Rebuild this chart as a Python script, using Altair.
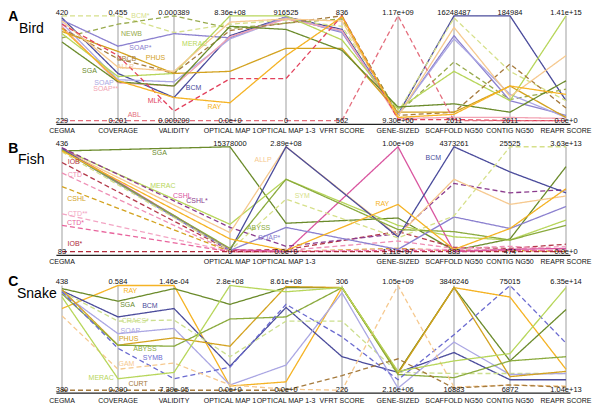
import altair as alt
import pandas as pd

AXES = ["CEGMA", "COVERAGE", "VALIDITY", "OPTICAL MAP 1", "OPTICAL MAP 1-3",
        "VFRT SCORE", "GENE-SIZED", "SCAFFOLD NG50", "CONTIG NG50", "REAPR SCORE"]

# ---------------- Bird ----------------
BIRD_MAX = ["420", "0.455", "0.000389", "8.36e+08", "916525", "836", "1.17e+09", "16248487", "184984", "1.41e+15"]
BIRD_MIN = ["229", "0.201", "0.000209", "0.0e+0", "0", "562", "9.30e+06", "2611", "2611", "0.0e+0"]
BIRD_NAMES = ["BCM", "BCM*", "NEWB", "SOAP*", "SOAP", "SOAP**", "MERAC", "CBCB", "PHUS", "ALLP", "SGA", "MLK", "RAY", "ABL"]
BIRD_DASHED = [0, 1, 1, 0, 0, 0, 0, 1, 0, 0, 0, 1, 0, 1]
BIRD_COLORS = ["#4a4b9b", "#d6e08a", "#98aa4c", "#8b80cf", "#aba7e3", "#f2a3b3", "#b7d65a",
               "#a57a3c", "#d3a21f", "#f6c98f", "#6b8b2b", "#e2425d", "#f5b324", "#e46f7e"]
# scaled position on each axis (0 = axis minimum, 1 = axis maximum)
BIRD_VALUES = [
    [0.98, 0.45, 0.22, 0.81, 0.99, 0.87, 0.06, 1.00, 1.00, 0.19],
    [1.00, 1.00, 0.84, 0.92, 0.96, 0.90, 0.08, 0.98, 0.47, 0.19],
    [0.79, 0.92, 1.00, 0.88, 0.93, 0.97, 0.07, 0.56, 0.20, 0.30],
    [0.96, 0.71, 0.83, 0.79, 0.99, 0.84, 0.05, 0.81, 0.19, 0.05],
    [0.93, 0.39, 0.37, 0.78, 0.98, 0.85, 0.06, 0.78, 0.25, 0.03],
    [0.90, 0.36, 0.33, 0.80, 0.97, 0.86, 0.02, 0.03, 0.03, 0.02],
    [0.83, 0.42, 0.45, 1.00, 1.00, 0.77, 0.11, 0.47, 0.19, 1.00],
    [0.88, 0.59, 0.45, 0.86, 0.93, 1.00, 0.05, 0.08, 0.54, 0.12],
    [0.85, 0.66, 0.45, 0.47, 0.69, 0.69, 0.08, 0.08, 0.33, 0.03],
    [0.95, 0.51, 0.47, 0.94, 0.97, 0.95, 0.04, 0.89, 0.23, 0.62],
    [0.75, 0.37, 0.33, 0.90, 0.87, 0.67, 0.13, 0.16, 0.08, 0.38],
    [0.92, 0.62, 0.09, 0.40, 0.40, 1.00, 0.01, 0.01, 0.00, 0.00],
    [0.88, 0.38, 0.22, 0.17, 0.62, 0.99, 0.03, 0.06, 0.33, 0.25],
    [0.00, 0.00, 0.00, 0.00, 0.00, 0.00, 1.00, 0.00, 0.00, 0.00],
]
BIRD_LABEL_X = [2.35, 1.40, 1.24, 1.40, 0.75, 0.78, 2.37, 1.15, 1.67, 1.13, 0.49, 1.66, 2.72, 1.29]
BIRD_LABEL_Y = [0.31, 1.00, 0.83, 0.69, 0.36, 0.30, 0.73, 0.59, 0.60, 0.51, 0.47, 0.19, 0.13, 0.05]

# ---------------- Fish ----------------
FISH_MAX = ["436", None, None, "15378000", "2.89e+08", None, "1.00e+09", "4373261", "25525", "3.63e+13"]
FISH_MIN = ["83", None, None, "0", "0.0e+0", None, "1.11e+07", "883", "474", "0.0e+0"]
FISH_NAMES = ["SGA", "IOB", "CTD", "CSHL", "CTD**", "CTD*", "IOB*", "MERAC", "CSHL", "CSHL*",
              "ALLP", "BCM", "SOAP*", "ABYSS", "SYM", "RAY"]
FISH_DASHED = [0, 1, 1, 1, 1, 1, 1, 0, 0, 1, 0, 0, 0, 0, 1, 0]
FISH_COLORS = ["#6b8b2b", "#b3394a", "#ef8fb5", "#d3a21f", "#f3a5c4", "#e8659d", "#b02a3a", "#b7d65a",
               "#d9559f", "#8a3b8d", "#f6c98f", "#4a4b9b", "#8b80cf", "#8aaa3d", "#d6e08a", "#f5b324"]
N = None
FISH_VALUES = [
    [0.96, N, N, 1.00, 0.27, N, 0.32, 0.01, 0.12, 0.81],
    [0.85, N, N, 0.01, 0.02, N, 0.19, 0.04, 0.03, 0.07],
    [0.75, N, N, 0.00, 0.01, N, 0.10, 0.03, 0.05, 0.02],
    [0.62, N, N, 0.00, 0.00, N, 0.03, 0.01, 0.01, 0.00],
    [0.36, N, N, 0.00, 0.00, N, 0.02, 0.02, 0.02, 0.05],
    [0.25, N, N, 0.00, 0.00, N, 0.01, 0.01, 0.01, 0.01],
    [0.00, N, N, 0.00, 0.00, N, 0.00, 0.00, 0.00, 0.00],
    [0.98, N, N, 0.26, 0.69, N, 0.25, 0.14, 0.11, 0.30],
    [0.99, N, N, 0.02, 0.00, N, 1.00, 0.00, 0.02, 0.03],
    [0.99, N, N, 0.23, 0.05, N, 0.17, 0.65, 0.56, 0.59],
    [0.97, N, N, 0.18, 1.00, N, 0.15, 0.69, 0.45, 0.53],
    [0.98, N, N, 0.01, 1.00, N, 0.14, 1.00, 0.76, 0.56],
    [0.97, N, N, 0.01, 0.23, N, 0.02, 0.33, 0.22, 0.43],
    [0.97, N, N, 0.03, 0.69, N, 0.21, 0.19, 0.11, 0.25],
    [0.95, N, N, 0.01, 0.50, N, 0.13, 0.34, 1.00, 1.00],
    [0.96, N, N, 0.12, 0.01, N, 0.45, 0.02, 0.22, 0.60],
]
FISH_LABEL_X = [1.74, 0.21, 0.23, 0.26, 0.28, 0.24, 0.23, 1.80, 2.15, 2.41, 3.59, 6.63, 3.70, 3.51, 4.29, 5.72]
FISH_LABEL_Y = [0.94, 0.85, 0.73, 0.50, 0.36, 0.27, 0.07, 0.63, 0.53, 0.48, 0.87, 0.89, 0.13, 0.22, 0.53, 0.45]

# ---------------- Snake ----------------
SNAKE_MAX = ["438", "0.584", "1.46e-04", "2.8e+08", "8.61e+08", "306", "1.05e+09", "3846246", "75015", "6.35e+14"]
SNAKE_MIN = ["380", "0.290", "7.39e-05", "0.0e+0", "0.0e+0", "226", "2.16e+06", "16883", "6872", "1.04e+13"]
SNAKE_NAMES = ["RAY", "SGA", "BCM", "CRACS*", "SOAP", "PHUS", "ABYSS", "SYMB", "GAM", "MERAC", "CURT"]
SNAKE_DASHED = [0, 0, 0, 1, 0, 0, 0, 1, 1, 0, 1]
SNAKE_COLORS = ["#f5b324", "#6b8b2b", "#4a4b9b", "#ccdf8e", "#aba7e3", "#d3a21f", "#8aaa3d",
                "#6b6bd0", "#f6c98f", "#b7d65a", "#a57a3c"]
SNAKE_VALUES = [
    [0.78, 1.00, 1.00, 0.04, 0.08, 0.98, 0.17, 0.98, 0.89, 0.20],
    [0.97, 0.85, 0.97, 0.82, 0.98, 0.98, 0.17, 0.98, 0.28, 0.77],
    [0.95, 0.70, 0.78, 0.23, 0.79, 0.32, 0.17, 0.36, 0.10, 0.10],
    [0.94, 0.66, 0.67, 0.32, 0.66, 0.66, 0.17, 0.16, 0.16, 0.16],
    [0.93, 0.54, 0.59, 0.05, 0.24, 0.93, 0.02, 0.46, 0.15, 0.16],
    [0.96, 0.43, 0.50, 0.42, 0.99, 0.98, 0.16, 0.98, 0.13, 0.18],
    [0.92, 0.43, 0.42, 0.68, 0.70, 0.98, 0.15, 0.12, 0.28, 0.32],
    [0.94, 0.40, 0.11, 0.22, 0.82, 0.51, 0.10, 0.53, 1.00, 0.45],
    [0.71, 0.20, 0.26, 0.05, 0.01, 0.00, 1.00, 0.03, 0.05, 0.04],
    [0.89, 0.11, 0.17, 1.00, 0.94, 0.98, 0.18, 0.28, 0.35, 0.98],
    [0.00, 0.00, 0.00, 0.00, 0.00, 0.14, 0.30, 0.02, 0.05, 0.03],
]
SNAKE_LABEL_X = [1.22, 1.17, 1.57, 1.31, 1.22, 1.19, 1.48, 1.62, 1.15, 0.70, 1.36]
SNAKE_LABEL_Y = [0.95, 0.81, 0.80, 0.66, 0.57, 0.49, 0.39, 0.31, 0.25, 0.12, 0.06]

# ---------------- layout helpers ----------------
FONT = "Liberation Sans"
W = 584
AX_LEFT, AX_RIGHT = 62.0, 566.0
UNIT = (AX_RIGHT - AX_LEFT) / 9
XDOM = [(8 - AX_LEFT) / UNIT, 9 + (592 - AX_RIGHT) / UNIT]


def px_y(ry):
    return 8 + (ry - 3) * 0.97


def panel(names, dashed, colors, values, vmax, vmin, lx, ly, letter, word,
          V, H, rtop, rbot, rbase, rnames, rletter, rword, word_px):
    PT, PB = px_y(rtop), px_y(rbot)
    s = PB - PT
    ydom = [-(V + H - PB) / s, 1 + (PT - V) / s]

    def ny(ry):
        return (PB - px_y(ry)) / s

    def nx(px):
        return (px - AX_LEFT) / UNIT

    X = lambda f: alt.X(f, type="quantitative", scale=alt.Scale(domain=XDOM, nice=False, zero=False), axis=None)
    Y = lambda f: alt.Y(f, type="quantitative", scale=alt.Scale(domain=ydom, nice=False, zero=False), axis=None)

    present = [i for i in range(10) if vmax[i] is not None]

    rows = []
    for k, (nm, d, c, vals) in enumerate(zip(names, dashed, colors, values)):
        for i, v in enumerate(vals):
            if v is None:
                continue
            rows.append({"key": f"{letter}{k}", "idx": i, "v": v, "color": c,
                         "dash": "d" if d else "s"})
    ldf = pd.DataFrame(rows)

    axdf = pd.DataFrame({"idx": present, "lo": 0.0, "hi": 1.0,
                         "top": [vmax[i] for i in present], "bot": [vmin[i] for i in present],
                         "name": [AXES[i] for i in present], "ny": ny(rnames)})

    grey = alt.Chart(axdf).mark_rule(color="#cfcfcf", strokeWidth=2).encode(
        x=X("idx"), y=Y("lo"), y2="hi")

    basedf = pd.DataFrame({"x0": [-0.1], "x1": [9.08], "y": [ny(rbase)]})
    base = alt.Chart(basedf).mark_rule(color="#222222", strokeWidth=1.2).encode(
        x=X("x0"), x2="x1", y=Y("y"))

    lines = alt.Chart(ldf).mark_line(strokeWidth=1.3).encode(
        x=X("idx"), y=Y("v"),
        color=alt.Color("color:N", scale=None),
        strokeDash=alt.StrokeDash("dash:N", scale=alt.Scale(domain=["s", "d"], range=[[1, 0], [5, 3]]), legend=None),
        detail="key:N", order=alt.Order("idx:Q"))

    toplab = alt.Chart(axdf).mark_text(font=FONT, fontSize=7.5, color="#111", baseline="middle", dy=-3).encode(
        x=X("idx"), y=Y("hi"), text="top:N")
    botlab = alt.Chart(axdf).mark_text(font=FONT, fontSize=7.5, color="#111", baseline="middle").encode(
        x=X("idx"), y=Y("lo"), text="bot:N")
    namelab = alt.Chart(axdf).mark_text(font=FONT, fontSize=7, color="#111", baseline="middle").encode(
        x=X("idx"), y=Y("ny"), text="name:N")

    sdf = pd.DataFrame({"t": names, "x": lx, "y": ly, "color": colors})
    slab = alt.Chart(sdf).mark_text(font=FONT, fontSize=7, baseline="middle").encode(
        x=X("x"), y=Y("y"), text="t:N", color=alt.Color("color:N", scale=None))

    tdf = pd.DataFrame({"t": [letter, word], "x": [XDOM[0] + 0.005, nx(word_px)],
                        "y": [ny(rletter), ny(rword)]})
    t1 = alt.Chart(tdf.iloc[[0]]).mark_text(font=FONT, fontSize=14, fontWeight="bold", align="left",
                                            baseline="top", color="#000").encode(x=X("x"), y=Y("y"), text="t:N")
    t2 = alt.Chart(tdf.iloc[[1]]).mark_text(font=FONT, fontSize=14, align="left",
                                            baseline="top", color="#000").encode(x=X("x"), y=Y("y"), text="t:N")

    return alt.layer(grey, base, lines, toplab, botlab, namelab, slab, t1, t2).properties(width=W, height=H)


pa = panel(BIRD_NAMES, BIRD_DASHED, BIRD_COLORS, BIRD_VALUES, BIRD_MAX, BIRD_MIN,
           BIRD_LABEL_X, BIRD_LABEL_Y, "A", "Bird",
           8, 130, 9, 117, 121, 128, 3.0, 15, 19)
pb = panel(FISH_NAMES, FISH_DASHED, FISH_COLORS, FISH_VALUES, FISH_MAX, FISH_MIN,
           FISH_LABEL_X, FISH_LABEL_Y, "B", "Fish",
           138, 135, 144, 252, 256, 263, 139, 150, 18)
pc = panel(SNAKE_NAMES, SNAKE_DASHED, SNAKE_COLORS, SNAKE_VALUES, SNAKE_MAX, SNAKE_MIN,
           SNAKE_LABEL_X, SNAKE_LABEL_Y, "C", "Snake",
           273, 130, 287, 395, 398, 406, 276, 289, 17)

chart = alt.vconcat(pa, pb, pc, spacing=0, bounds="flush").properties(padding=0).configure_view(stroke=None)

chart.save("out.html", embed_options={"renderer": "svg", "actions": False})
